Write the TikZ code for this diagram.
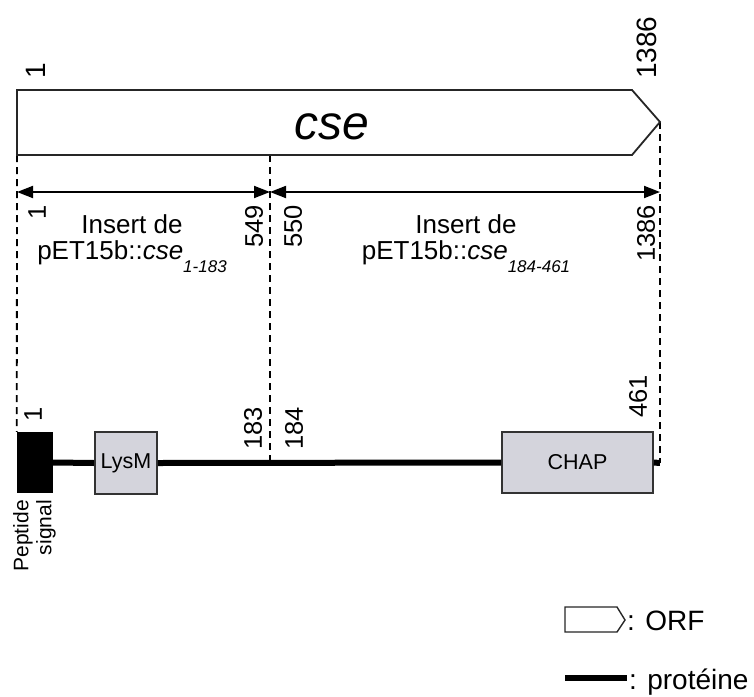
\documentclass[tikz,border=0pt]{standalone}
\usepackage{fontspec}
\setmainfont{Liberation Sans}
\usetikzlibrary{arrows.meta}
\definecolor{domgray}{RGB}{212,212,220}
\begin{document}
\begin{tikzpicture}[x=1pt,y=-1pt,
  lbl/.style={inner sep=0pt, align=center, font=\fontsize{26}{26}\selectfont},
  num/.style={inner sep=0pt, rotate=90, font=\fontsize{25.5}{25.5}\selectfont},
  bignum/.style={inner sep=0pt, rotate=90, font=\fontsize{28}{28}\selectfont},
  orfshape/.style={draw=black!85, line width=1.8pt, fill=white, line join=miter},
  dombox/.style={draw=black!80, line width=1.6pt, fill=domgray, inner sep=0pt, font=\fontsize{21.5}{21.5}\selectfont},
  guideline/.style={line width=1.8pt, dash pattern=on 7pt off 5pt},
  spanarrow/.style={line width=1.8pt, {Triangle[length=16pt,width=12pt]}-{Triangle[length=16pt,width=12pt]}},
  prot/.style={line width=6pt},
  legtext/.style={inner sep=0pt, font=\fontsize{28}{28}\selectfont}]
\useasboundingbox (0,0) rectangle (754,696);

% key coordinates
\coordinate (o1) at (17,155);
\coordinate (o2) at (270,155);
\coordinate (otip) at (660,122);
\coordinate (p2) at (270,463);
\coordinate (pend) at (660,463);
\coordinate (a1) at (17,192);
\coordinate (a2) at (270,192);
\coordinate (a3) at (660,192);

% protein domains
\node[fill=black, inner sep=0pt, minimum width=36pt, minimum height=61pt] (sp) at (35,462.5) {};
\node[dombox, minimum width=62pt, minimum height=62pt] (lysm) at (126,463) {LysM};
\node[dombox, minimum width=151pt, minimum height=61pt] (chap) at (577.5,462.5) {CHAP};

% guide lines
\draw[guideline] (o1) -- (sp.north west);
\draw[guideline] (o2) -- (p2);
\draw[guideline] (otip) -- (pend);

% ORF
\draw[orfshape] (17,90) -- (632,90) -- (otip) -- (632,155) -- (17,155) -- cycle;
\node[inner sep=0pt, font=\fontsize{48}{48}\selectfont\itshape] (cse) at (332,127) {cse};

% protein line
\draw[prot] (sp.east) -- (lysm.west);
\draw[prot] (lysm.east) -- (chap.west);
\draw[prot] (chap.east) -- (pend);

% span arrows
\draw[spanarrow] (a1) -- (a2);
\draw[spanarrow] (a2) -- (a3);

% numbers
\node[bignum, anchor=west] (t1) at (36,79) {1};
\node[bignum, anchor=west] (t1386) at (647,79) {1386};
\node[num, anchor=east] (m1) at (37,205) {1};
\node[num, anchor=east] (m549) at (254,205) {549};
\node[num, anchor=east] (m550) at (293,205) {550};
\node[num, anchor=east] (m1386) at (646,205) {1386};
\node[num, anchor=west] (p1) at (33,422) {1};
\node[num, anchor=west] (p183) at (253,450) {183};
\node[num, anchor=west] (p184) at (294,450) {184};
\node[num, anchor=west] (p461) at (638,418) {461};

% insert labels
\node[lbl, anchor=north] (ins1) at (132,214) {Insert de\\pET15b::\textit{cse}\raisebox{-13pt}{\fontsize{17}{17}\selectfont\itshape 1-183}};
\node[lbl, anchor=north] (ins2) at (466,214) {Insert de\\pET15b::\textit{cse}\raisebox{-13pt}{\fontsize{17}{17}\selectfont\itshape 184-461}};

% peptide signal label
\node[inner sep=0pt, rotate=90, anchor=north east, align=right, font=\fontsize{21}{23}\selectfont] (spl) at (13,500) {Peptide\\signal};

% legend
\draw[orfshape, line width=1.4pt] (565,607) -- (617,607) -- (625,620) -- (617,632) -- (565,632) -- cycle;
\node[legtext, anchor=base west] (lorf) at (627,630) {: ORF};
\coordinate (lg1) at (565,678);
\coordinate (lg2) at (627,678);
\draw[prot] (lg1) -- (lg2);
\node[legtext, anchor=base west] (lprot) at (629,689) {: protéine};
\end{tikzpicture}
\end{document}
